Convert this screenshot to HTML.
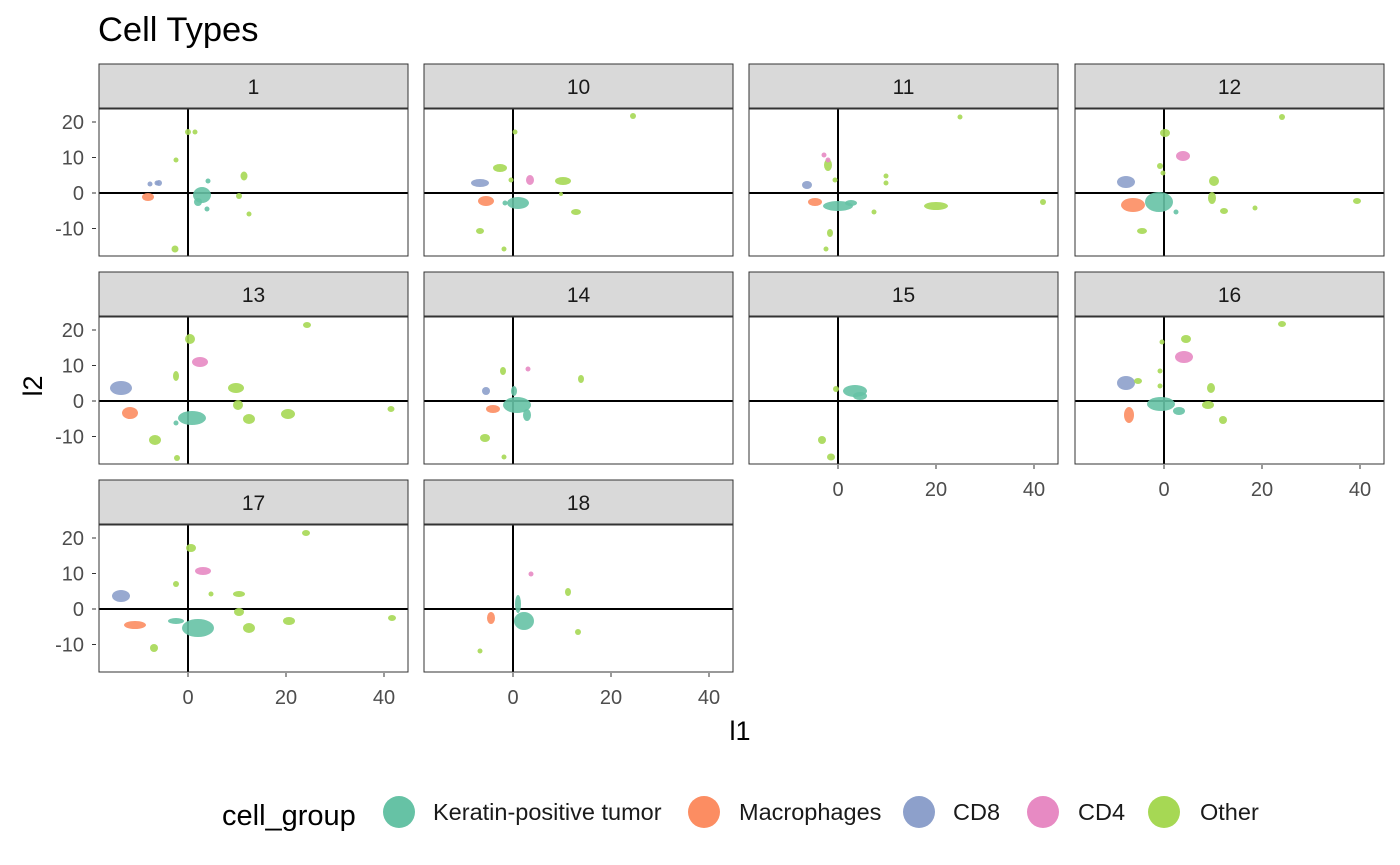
<!DOCTYPE html>
<html><head><meta charset="utf-8"><style>
body{margin:0;background:#fff}
svg{display:block;font-family:"Liberation Sans",sans-serif}
.st{fill:#d9d9d9;stroke:#333;stroke-width:1}
.fr{fill:none;stroke:#333;stroke-width:1}
.ax{stroke:#000;stroke-width:2}
.sl{font-size:21px;fill:#1a1a1a;text-anchor:middle}
.tk{font-size:20px;fill:#4d4d4d}
.T{fill:#66C2A5}.M{fill:#FC8D62}.C8{fill:#8DA0CB}.C4{fill:#E78AC3}.O{fill:#A6D854}
g.p ellipse,g.p circle{opacity:.9}
</style></head><body>
<svg width="1400" height="865" viewBox="0 0 1400 865">
<rect width="1400" height="865" fill="#fff"/>
<text x="98" y="41" font-size="34.5" fill="#000">Cell Types</text>

<defs>
<g id="frame">
<rect class="st" x="-89" y="-129" width="309" height="44"/>
<line class="ax" x1="0" y1="-84" x2="0" y2="63"/>
<line class="ax" x1="-89" y1="0" x2="220" y2="0"/>
<rect class="fr" x="-89" y="-84" width="309" height="147"/>
</g>
<g id="yt">
<g stroke="#333" stroke-width="1"><line x1="-96" y1="-71" x2="-92" y2="-71"/><line x1="-96" y1="-35.5" x2="-92" y2="-35.5"/><line x1="-96" y1="0" x2="-92" y2="0"/><line x1="-96" y1="35.5" x2="-92" y2="35.5"/></g>
<g class="tk" text-anchor="end"><text x="-104" y="-64">20</text><text x="-104" y="-28.5">10</text><text x="-104" y="7">0</text><text x="-104" y="42.5">-10</text></g>
</g>
<g id="xt">
<g stroke="#333" stroke-width="1"><line x1="0" y1="64" x2="0" y2="68"/><line x1="98" y1="64" x2="98" y2="68"/><line x1="196" y1="64" x2="196" y2="68"/></g>
<g class="tk" text-anchor="middle"><text x="0" y="95">0</text><text x="98" y="95">20</text><text x="196" y="95">40</text></g>
</g>
</defs>

<!-- Panel 1 -->
<g class="p" transform="translate(188,193)">
<use href="#frame"/><use href="#yt"/>
<text class="sl" x="65.5" y="-99">1</text>
<circle class="O" cx="0" cy="-61" r="3"/><circle class="O" cx="7" cy="-61" r="2.5"/><circle class="O" cx="-12" cy="-33" r="2.5"/>
<circle class="C8" cx="-38" cy="-9" r="2.5"/><circle class="C8" cx="-29" cy="-10" r="3"/><circle class="C8" cx="-31" cy="-10" r="2.5"/>
<ellipse class="M" cx="-40" cy="4" rx="6" ry="4"/>
<ellipse class="T" cx="14" cy="2" rx="9" ry="8"/><circle class="T" cx="20" cy="-12" r="2.5"/><circle class="T" cx="19" cy="16" r="2.5"/><ellipse class="T" cx="10" cy="9" rx="4" ry="4"/>
<ellipse class="O" cx="56" cy="-17" rx="3.5" ry="4.5"/><circle class="O" cx="51" cy="3" r="3"/><circle class="O" cx="61" cy="21" r="2.5"/><circle class="O" cx="-13" cy="56" r="3.5"/>
</g>

<!-- Panel 10 -->
<g class="p" transform="translate(513,193)">
<use href="#frame"/>
<text class="sl" x="65.5" y="-99">10</text>
<circle class="O" cx="2" cy="-61" r="2.5"/><ellipse class="O" cx="120" cy="-77" rx="3" ry="3"/><ellipse class="O" cx="-13" cy="-25" rx="7" ry="4"/><circle class="O" cx="-2" cy="-13" r="2.5"/>
<ellipse class="O" cx="50" cy="-12" rx="8" ry="4"/><circle class="O" cx="48" cy="1" r="2"/><ellipse class="O" cx="63" cy="19" rx="5" ry="3"/><ellipse class="O" cx="-33" cy="38" rx="4" ry="3"/><circle class="O" cx="-9" cy="56" r="2.5"/>
<ellipse class="C8" cx="-33" cy="-10" rx="9" ry="4"/>
<ellipse class="M" cx="-27" cy="8" rx="8" ry="5"/>
<ellipse class="C4" cx="17" cy="-13" rx="4" ry="5"/>
<ellipse class="T" cx="5" cy="10" rx="11" ry="6"/><circle class="T" cx="-8" cy="10" r="2.5"/>
</g>

<!-- Panel 11 -->
<g class="p" transform="translate(838,193)">
<use href="#frame"/>
<text class="sl" x="65.5" y="-99">11</text>
<ellipse class="C8" cx="-31" cy="-8" rx="5" ry="4"/>
<ellipse class="M" cx="-23" cy="9" rx="7" ry="4"/>
<ellipse class="T" cx="0" cy="13" rx="15" ry="5"/><ellipse class="T" cx="13" cy="10" rx="6" ry="3"/>
<ellipse class="O" cx="-10" cy="-28" rx="4" ry="6"/><circle class="O" cx="-3" cy="-13" r="2.5"/><ellipse class="O" cx="-8" cy="40" rx="3" ry="4"/><circle class="O" cx="-12" cy="56" r="2.5"/>
<circle class="O" cx="48" cy="-17" r="2.5"/><circle class="O" cx="48" cy="-10" r="2.5"/><circle class="O" cx="36" cy="19" r="2.5"/><ellipse class="O" cx="98" cy="13" rx="12" ry="4"/><circle class="O" cx="122" cy="-76" r="2.5"/><ellipse class="O" cx="205" cy="9" rx="3" ry="3"/>
<circle class="C4" cx="-14" cy="-38" r="2.5"/><circle class="C4" cx="-10" cy="-33" r="2.5"/>
</g>

<!-- Panel 12 -->
<g class="p" transform="translate(1164,193)">
<use href="#frame"/>
<text class="sl" x="65.5" y="-99">12</text>
<ellipse class="C8" cx="-38" cy="-11" rx="9" ry="6"/>
<ellipse class="M" cx="-31" cy="12" rx="12" ry="7"/>
<ellipse class="T" cx="-5" cy="9" rx="14" ry="10"/><circle class="T" cx="12" cy="19" r="2.5"/>
<ellipse class="C4" cx="19" cy="-37" rx="7" ry="5"/>
<ellipse class="O" cx="1" cy="-60" rx="5" ry="4"/><circle class="O" cx="-4" cy="-27" r="3"/><circle class="O" cx="-1" cy="-20" r="2.5"/>
<ellipse class="O" cx="50" cy="-12" rx="5" ry="5"/><ellipse class="O" cx="48" cy="5" rx="4" ry="6"/><ellipse class="O" cx="60" cy="18" rx="4" ry="3"/><ellipse class="O" cx="-22" cy="38" rx="5" ry="3"/><circle class="O" cx="91" cy="15" r="2.5"/><circle class="O" cx="118" cy="-76" r="3"/><ellipse class="O" cx="193" cy="8" rx="4" ry="3"/>
</g>

<!-- Panel 13 -->
<g class="p" transform="translate(188,401)">
<use href="#frame"/><use href="#yt"/>
<text class="sl" x="65.5" y="-99">13</text>
<ellipse class="C8" cx="-67" cy="-13" rx="11" ry="7"/>
<ellipse class="M" cx="-58" cy="12" rx="8" ry="6"/>
<ellipse class="T" cx="4" cy="17" rx="14" ry="7"/><circle class="T" cx="-12" cy="22" r="2.5"/>
<ellipse class="C4" cx="12" cy="-39" rx="8" ry="5"/>
<ellipse class="O" cx="2" cy="-62" rx="5" ry="5"/><ellipse class="O" cx="-12" cy="-25" rx="3" ry="5"/><ellipse class="O" cx="119" cy="-76" rx="4" ry="3"/><ellipse class="O" cx="48" cy="-13" rx="8" ry="5"/>
<ellipse class="O" cx="50" cy="4" rx="5" ry="5"/><ellipse class="O" cx="61" cy="18" rx="6" ry="5"/><ellipse class="O" cx="100" cy="13" rx="7" ry="5"/><ellipse class="O" cx="203" cy="8" rx="3.5" ry="3"/><ellipse class="O" cx="-33" cy="39" rx="6" ry="5"/><circle class="O" cx="-11" cy="57" r="3"/>
</g>

<!-- Panel 14 -->
<g class="p" transform="translate(513,401)">
<use href="#frame"/>
<text class="sl" x="65.5" y="-99">14</text>
<ellipse class="C8" cx="-27" cy="-10" rx="4" ry="4"/>
<ellipse class="M" cx="-20" cy="8" rx="7" ry="4"/>
<ellipse class="T" cx="4" cy="4" rx="14" ry="8"/><ellipse class="T" cx="14" cy="14" rx="4" ry="6"/><ellipse class="T" cx="1" cy="-10" rx="3" ry="5"/>
<ellipse class="O" cx="-10" cy="-30" rx="3" ry="4"/><circle class="C4" cx="15" cy="-32" r="2.5"/>
<ellipse class="O" cx="68" cy="-22" rx="3" ry="4"/><ellipse class="O" cx="-28" cy="37" rx="5" ry="4"/><circle class="O" cx="-9" cy="56" r="2.5"/>
</g>

<!-- Panel 15 -->
<g class="p" transform="translate(838,401)">
<use href="#frame"/>
<text class="sl" x="65.5" y="-99">15</text>
<use href="#xt"/>
<ellipse class="T" cx="17" cy="-10" rx="12" ry="6"/><ellipse class="T" cx="22" cy="-5" rx="7" ry="4"/>
<ellipse class="O" cx="-2" cy="-12" rx="3" ry="3"/><ellipse class="O" cx="-16" cy="39" rx="4" ry="4"/><ellipse class="O" cx="-7" cy="56" rx="4" ry="3.5"/>
</g>

<!-- Panel 16 -->
<g class="p" transform="translate(1164,401)">
<use href="#frame"/>
<text class="sl" x="65.5" y="-99">16</text>
<use href="#xt"/>
<ellipse class="C8" cx="-38" cy="-18" rx="9" ry="7"/>
<ellipse class="M" cx="-35" cy="14" rx="5" ry="8"/>
<ellipse class="T" cx="-3" cy="3" rx="14" ry="7"/><ellipse class="T" cx="15" cy="10" rx="6" ry="4"/>
<ellipse class="C4" cx="20" cy="-44" rx="9" ry="6"/>
<circle class="O" cx="-2" cy="-59" r="2.5"/><circle class="O" cx="-4" cy="-30" r="2.5"/><ellipse class="O" cx="-26" cy="-20" rx="4" ry="3"/><ellipse class="O" cx="22" cy="-62" rx="5" ry="4"/>
<ellipse class="O" cx="118" cy="-77" rx="4" ry="3"/><ellipse class="O" cx="47" cy="-13" rx="4" ry="5"/><ellipse class="O" cx="44" cy="4" rx="6" ry="4"/><ellipse class="O" cx="59" cy="19" rx="4" ry="4"/><circle class="O" cx="-4" cy="-15" r="2.5"/>
</g>

<!-- Panel 17 -->
<g class="p" transform="translate(188,609)">
<use href="#frame"/><use href="#yt"/><use href="#xt"/>
<text class="sl" x="65.5" y="-99">17</text>
<ellipse class="C8" cx="-67" cy="-13" rx="9" ry="6"/>
<ellipse class="M" cx="-53" cy="16" rx="11" ry="4"/>
<ellipse class="T" cx="10" cy="19" rx="16" ry="9"/><ellipse class="T" cx="-12" cy="12" rx="8" ry="3"/>
<ellipse class="C4" cx="15" cy="-38" rx="8" ry="4"/>
<ellipse class="O" cx="3" cy="-61" rx="5" ry="4"/><ellipse class="O" cx="-12" cy="-25" rx="3" ry="3"/><circle class="O" cx="23" cy="-15" r="2.5"/><ellipse class="O" cx="118" cy="-76" rx="4" ry="3"/>
<ellipse class="O" cx="51" cy="-15" rx="6" ry="3"/><ellipse class="O" cx="51" cy="3" rx="5" ry="4"/><ellipse class="O" cx="61" cy="19" rx="6" ry="5"/><ellipse class="O" cx="101" cy="12" rx="6" ry="4"/><ellipse class="O" cx="204" cy="9" rx="4" ry="3"/><ellipse class="O" cx="-34" cy="39" rx="4" ry="4"/>
</g>

<!-- Panel 18 -->
<g class="p" transform="translate(513,609)">
<use href="#frame"/><use href="#xt"/>
<text class="sl" x="65.5" y="-99">18</text>
<ellipse class="M" cx="-22" cy="9" rx="4" ry="6"/>
<ellipse class="T" cx="11" cy="12" rx="10" ry="9"/><ellipse class="T" cx="5" cy="-5" rx="3" ry="9"/>
<circle class="C4" cx="18" cy="-35" r="2.5"/>
<ellipse class="O" cx="55" cy="-17" rx="3" ry="4"/><circle class="O" cx="65" cy="23" r="3"/><circle class="O" cx="-33" cy="42" r="2.5"/>
</g>

<text x="740" y="740" font-size="27" text-anchor="middle">l1</text>
<text x="0" y="0" font-size="27" text-anchor="middle" transform="translate(42,386) rotate(-90)">l2</text>

<text x="222" y="825" font-size="29">cell_group</text>
<g font-size="23.5" fill="#1a1a1a">
<circle cx="399" cy="812" r="16" fill="#66C2A5"/><text x="433" y="820">Keratin-positive tumor</text>
<circle cx="704" cy="812" r="16" fill="#FC8D62"/><text x="739" y="820">Macrophages</text>
<circle cx="919" cy="812" r="16" fill="#8DA0CB"/><text x="953" y="820">CD8</text>
<circle cx="1043" cy="812" r="16" fill="#E78AC3"/><text x="1078" y="820">CD4</text>
<circle cx="1164" cy="812" r="16" fill="#A6D854"/><text x="1200" y="820">Other</text>
</g>
</svg>
</body></html>
